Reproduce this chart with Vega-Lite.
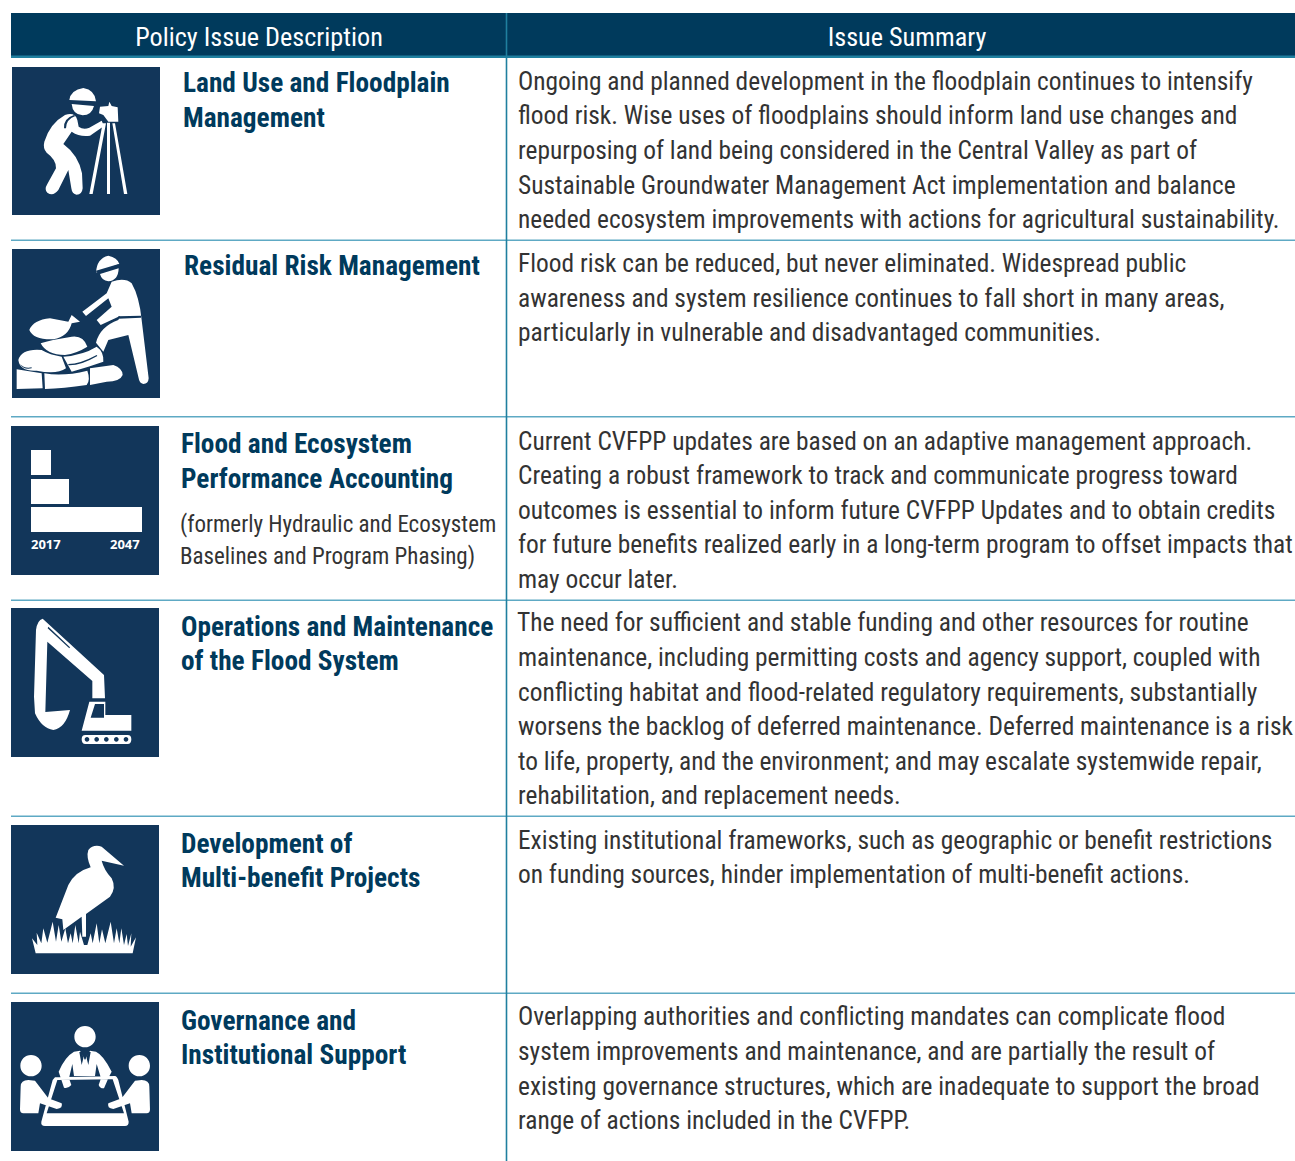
{"$schema":"https://vega.github.io/schema/vega-lite/v6.json","width":1295,"height":1161,"padding":0,"autosize":{"type":"none"},"background":"white","view":{"stroke":null},
"datasets":{
"cells":[
{"part":"rowline","x":11,"x2":1295,"y":239.5,"y2":241},
{"part":"rowline","x":11,"x2":1295,"y":416,"y2":417.5},
{"part":"rowline","x":11,"x2":1295,"y":599.5,"y2":601},
{"part":"rowline","x":11,"x2":1295,"y":815.5,"y2":817},
{"part":"rowline","x":11,"x2":1295,"y":992.5,"y2":994},
{"part":"header","x":11,"x2":1295,"y":13,"y2":56},
{"part":"rule","x":11,"x2":1295,"y":55.5,"y2":58},
{"part":"rule","x":505.7,"x2":507.3,"y":13,"y2":1161},
{"part":"icon","x":12,"x2":160,"y":67,"y2":215},
{"part":"icon","x":12,"x2":160,"y":249,"y2":398},
{"part":"icon","x":11,"x2":159,"y":426,"y2":575},
{"part":"icon","x":11,"x2":159,"y":608,"y2":757},
{"part":"icon","x":11,"x2":159,"y":825,"y2":974},
{"part":"icon","x":11,"x2":159,"y":1002,"y2":1151}
],
"icons":[
{"icon":"surveyor","x":0,"y":0},{"icon":"surveyorDetail","x":0,"y":0},
{"icon":"sandbags","x":0,"y":240},{"icon":"sandbagsDetail","x":0,"y":240},
{"icon":"bars","x":0,"y":240},
{"icon":"excavator","x":0,"y":600},{"icon":"excavatorDetail","x":0,"y":600},
{"icon":"heron","x":0,"y":600},
{"icon":"meeting","x":0,"y":990},{"icon":"meetingDetail","x":0,"y":990}
],
"texts":[
{"role":"header","x":259,"y":37,"text":"Policy Issue Description"},
{"role":"header","x":907,"y":37,"text":"Issue Summary"},
{"role":"title","x":183,"y":82,"text":"Land Use and Floodplain"},
{"role":"title","x":183,"y":117,"text":"Management"},
{"role":"title","x":184,"y":265,"text":"Residual Risk Management"},
{"role":"title","x":181,"y":443,"text":"Flood and Ecosystem"},
{"role":"title","x":181,"y":478,"text":"Performance Accounting"},
{"role":"note","x":180,"y":523,"text":"(formerly Hydraulic and Ecosystem"},
{"role":"note","x":180,"y":555,"text":"Baselines and Program Phasing)"},
{"role":"title","x":181,"y":626,"text":"Operations and Maintenance"},
{"role":"title","x":181,"y":660,"text":"of the Flood System"},
{"role":"title","x":181,"y":843,"text":"Development of"},
{"role":"title","x":181,"y":877,"text":"Multi-benefit Projects"},
{"role":"title","x":181,"y":1020,"text":"Governance and"},
{"role":"title","x":181,"y":1054,"text":"Institutional Support"},
{"role":"year","x":31,"y":545,"text":"2017"},
{"role":"year","x":110,"y":545,"text":"2047"},
{"role":"body","x":518,"y":81,"text":"Ongoing and planned development in the floodplain continues to intensify"},
{"role":"body","x":518,"y":115,"text":"flood risk. Wise uses of floodplains should inform land use changes and"},
{"role":"body","x":518,"y":150,"text":"repurposing of land being considered in the Central Valley as part of"},
{"role":"body","x":518,"y":185,"text":"Sustainable Groundwater Management Act implementation and balance"},
{"role":"body","x":518,"y":219,"text":"needed ecosystem improvements with actions for agricultural sustainability."},
{"role":"body","x":518,"y":263,"text":"Flood risk can be reduced, but never eliminated. Widespread public"},
{"role":"body","x":518,"y":298,"text":"awareness and system resilience continues to fall short in many areas,"},
{"role":"body","x":518,"y":332,"text":"particularly in vulnerable and disadvantaged communities."},
{"role":"body","x":518,"y":441,"text":"Current CVFPP updates are based on an adaptive management approach."},
{"role":"body","x":518,"y":475,"text":"Creating a robust framework to track and communicate progress toward"},
{"role":"body","x":518,"y":510,"text":"outcomes is essential to inform future CVFPP Updates and to obtain credits"},
{"role":"body","x":518,"y":544,"text":"for future benefits realized early in a long-term program to offset impacts that"},
{"role":"body","x":518,"y":579,"text":"may occur later."},
{"role":"body","x":517,"y":622,"text":"The need for sufficient and stable funding and other resources for routine"},
{"role":"body","x":518,"y":657,"text":"maintenance, including permitting costs and agency support, coupled with"},
{"role":"body","x":518,"y":692,"text":"conflicting habitat and flood-related regulatory requirements, substantially"},
{"role":"body","x":518,"y":726,"text":"worsens the backlog of deferred maintenance. Deferred maintenance is a risk"},
{"role":"body","x":518,"y":761,"text":"to life, property, and the environment; and may escalate systemwide repair,"},
{"role":"body","x":518,"y":795,"text":"rehabilitation, and replacement needs."},
{"role":"body","x":518,"y":840,"text":"Existing institutional frameworks, such as geographic or benefit restrictions"},
{"role":"body","x":518,"y":874,"text":"on funding sources, hinder implementation of multi-benefit actions."},
{"role":"body","x":518,"y":1016,"text":"Overlapping authorities and conflicting mandates can complicate flood"},
{"role":"body","x":518,"y":1051,"text":"system improvements and maintenance, and are partially the result of"},
{"role":"body","x":518,"y":1086,"text":"existing governance structures, which are inadequate to support the broad"},
{"role":"body","x":518,"y":1120,"text":"range of actions included in the CVFPP."}
]},
"encoding":{
"x":{"field":"x","type":"quantitative","axis":null,"scale":{"domain":[0,1295],"nice":false,"zero":false}},
"y":{"field":"y","type":"quantitative","axis":null,"scale":{"domain":[1161,0],"nice":false,"zero":false}}
},
"resolve":{"scale":{"color":"independent"}},
"layer":[
{"data":{"name":"cells"},"mark":{"type":"rect"},"encoding":{"x2":{"field":"x2"},"y2":{"field":"y2"},"color":{"field":"part","type":"nominal","legend":null,"scale":{"domain":["rowline","header","rule","icon"],"range":["#5ea9c4","#003a5c","#1f7f9f","#12365a"]}}}},
{"data":{"name":"icons"},"mark":{"type":"point","filled":true,"opacity":1,"size":0.44444444,"strokeWidth":0},"encoding":{
"color":{"field":"icon","type":"nominal","legend":null,"scale":{"domain":["surveyor","surveyorDetail","sandbags","sandbagsDetail","bars","excavator","excavatorDetail","heron","meeting","meetingDetail"],"range":["#ffffff","#12365a","#ffffff","#12365a","#ffffff","#ffffff","#12365a","#ffffff","#ffffff","#12365a"]}},
"shape":{"field":"icon","type":"nominal","legend":null,"scale":{"domain":["surveyor","surveyorDetail","sandbags","sandbagsDetail","bars","excavator","excavatorDetail","heron","meeting","meetingDetail"],"range":[
"M208 300 Q212 270 250 264 Q285 270 288 304 Z M215 312 L282 318 Q275 346 248 346 Q218 344 215 312 Z M195 345 Q225 335 232 360 L236 380 Q250 390 268 383 L305 362 L312 378 L270 407 Q240 412 215 395 L190 432 Q235 465 246 520 L248 565 Q246 584 230 584 Q216 582 214 565 L205 510 L175 570 Q160 590 142 578 Q132 568 142 552 L168 505 Q170 480 140 458 Q128 445 133 425 Q150 370 195 345 Z M300 320 L325 318 L328 305 L335 318 L353 322 L355 365 L325 365 L310 345 L297 340 Z M321 368 L330 368 L330 582 L321 582 Z M308 370 L318 370 L278 582 L268 582 Z M337 370 L345 370 L382 582 L372 582 Z",
"M192 385 Q190 355 222 345 L226 348 Q198 358 198 385 Z",
"M288 98 Q290 55 325 47 Q352 52 358 72 Z M300 102 L356 85 Q355 122 325 124 Q305 122 300 102 Z M335 125 Q375 112 395 130 Q418 170 425 240 L446 415 Q445 432 430 432 Q418 430 416 415 L385 285 L325 300 L310 335 L288 308 Q300 260 355 240 L360 228 L302 255 L290 240 L335 200 L325 175 L258 228 L247 215 L320 160 Z M88 270 Q100 240 150 235 L205 245 L215 225 L240 245 L215 250 Q205 290 160 298 Q100 300 88 270 Z M122 310 Q150 300 215 290 Q250 285 262 320 Q230 340 195 345 Q140 345 122 310 Z M55 360 Q65 325 125 330 Q150 345 185 350 L198 385 Q170 405 110 392 Q60 395 55 360 Z M190 350 Q250 345 290 320 Q312 335 310 365 L265 380 L215 395 Z M270 385 L340 375 Q368 385 368 405 Q360 425 320 425 L270 435 Z M133 400 Q190 410 262 392 Q272 420 260 435 Q190 445 135 447 Z M50 388 L125 400 L128 445 L50 447 Z",
"M355 229 L423 227 L423 233 L355 236 Z M288 92 L356 72 L358 78 L290 99 Z M60 372 Q72 386 95 382 L95 385 Q70 390 60 372 Z M205 372 Q240 372 290 345 L292 348 Q240 378 205 376 Z",
"M93 630 H153 V705 H93 Z M93 717 H207 V792 H93 Z M93 801 H426 V876 H93 Z",
"M128 56 L312 225 L315 295 L277 295 L277 243 L142 125 L136 336 L210 330 Q195 385 160 390 Q125 385 105 340 L102 290 L108 90 Q112 60 128 56 Z M268 305 L316 305 L316 345 L394 345 L394 392 L245 392 Z M256 405 L383 405 Q394 405 394 418 Q394 432 383 432 L256 432 Q245 432 245 418 Q245 405 256 405 Z",
"M285 312 L312 312 L312 353 L272 353 Z M145 80 L210 142 L208 145 L143 85 Z M254 418 a7 7 0 1 0 14 0 a7 7 0 1 0 -14 0 Z M283 418 a7 7 0 1 0 14 0 a7 7 0 1 0 -14 0 Z M312 418 a7 7 0 1 0 14 0 a7 7 0 1 0 -14 0 Z M342 418 a7 7 0 1 0 14 0 a7 7 0 1 0 -14 0 Z M371 418 a7 7 0 1 0 14 0 a7 7 0 1 0 -14 0 Z",
"M372 797 L305 782 Q312 810 335 835 Q350 865 330 890 L258 942 L258 1010 L247 1010 L245 950 L190 990 L187 958 L167 953 L205 855 Q225 815 272 802 Q258 770 265 750 Q280 732 305 740 Z M107 1060 L96 1015 L112 1035 L110 998 L124 1030 L130 985 L142 1028 L158 965 L168 1025 L176 975 L184 1025 L196 985 L204 1030 L212 1000 L218 1030 L226 975 L236 1030 L240 995 L252 1035 L262 1035 L272 1000 L278 1030 L290 970 L298 1030 L306 988 L316 1030 L332 965 L342 1030 L350 985 L358 1030 L364 985 L372 1035 L380 1002 L384 1038 L394 1000 L392 1040 L408 1012 L398 1060 Z",
"M223 140 a32 32 0 1 1 64 0 a32 32 0 1 1 -64 0 Z M61 227 a32 32 0 1 1 64 0 a32 32 0 1 1 -64 0 Z M386 227 a32 32 0 1 1 64 0 a32 32 0 1 1 -64 0 Z M222 185 L240 182 L255 210 L270 182 L288 185 Q310 195 335 245 L327 260 L312 295 Q300 296 296 285 L303 265 L290 222 L285 258 L222 258 L217 222 L207 265 L214 285 Q205 296 192 293 L176 245 Q195 200 222 185 Z M165 262 L345 258 Q350 258 355 270 L386 395 Q386 408 375 408 L135 408 Q122 408 124 395 L158 270 Z M172 270 L140 370 L372 370 L338 268 Z M62 290 Q62 270 85 270 L105 272 L145 325 L185 340 Q190 355 170 357 L120 340 L115 370 L70 370 Q60 370 60 358 Z M425 270 Q448 270 448 290 L450 358 Q450 370 440 370 L395 370 L390 340 L340 357 Q320 355 325 340 L365 325 L405 272 Z",
"M238 186 L247 186 L250 205 L245 225 Z M272 186 L263 186 L260 205 L265 225 Z"
]}}}},
{"data":{"name":"texts"},"transform":[{"filter":"datum.role==='header'"}],"mark":{"type":"text","align":"center","baseline":"middle","dy":1,"font":"Roboto Condensed","fontSize":26.2,"color":"#ffffff"},"encoding":{"text":{"field":"text"}}},
{"data":{"name":"texts"},"transform":[{"filter":"datum.role==='title'"}],"mark":{"type":"text","align":"left","baseline":"middle","dy":1.5,"font":"Roboto Condensed","fontWeight":"bold","fontSize":27.3,"color":"#003a5c"},"encoding":{"text":{"field":"text"}}},
{"data":{"name":"texts"},"transform":[{"filter":"datum.role==='note'"}],"mark":{"type":"text","align":"left","baseline":"middle","dy":1.5,"font":"Roboto Condensed","fontSize":23,"color":"#333333"},"encoding":{"text":{"field":"text"}}},
{"data":{"name":"texts"},"transform":[{"filter":"datum.role==='year'"}],"mark":{"type":"text","align":"left","baseline":"middle","font":"Noto Sans","fontWeight":"bold","fontSize":13,"color":"#ffffff"},"encoding":{"text":{"field":"text"}}},
{"data":{"name":"texts"},"transform":[{"filter":"datum.role==='body'"}],"mark":{"type":"text","align":"left","baseline":"middle","dy":1,"font":"Roboto Condensed","fontSize":25.4,"color":"#333333"},"encoding":{"text":{"field":"text"}}}
]}
